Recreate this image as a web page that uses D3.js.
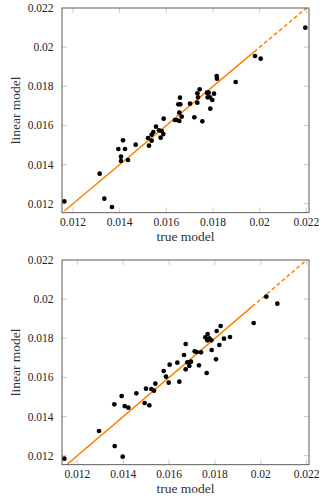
<!DOCTYPE html>
<html>
<head>
<meta charset="utf-8">
<script src="https://cdn.jsdelivr.net/npm/d3@7"></script>
<style>
  html, body { margin: 0; padding: 0; background: #fff; }
  svg { display: block; }
</style>
</head>
<body>
<svg id="chart" width="333" height="504"></svg>
<script>
// ---- Data ----
const tickValues = [0.012, 0.014, 0.016, 0.018, 0.02, 0.022];
const tickLabels = ["0.012", "0.014", "0.016", "0.018", "0.02", "0.022"];
const xLabel = "true model";
const yLabel = "linear model";

const topTrue = [0.011629,0.013143,0.013343,0.013671,0.013943,0.014057,0.014057,0.014143,0.014229,0.014357,
  0.014686,0.015214,0.015257,0.015371,0.015371,0.015443,0.015557,0.015686,0.015757,0.015800,
  0.015871,0.015886,0.016371,0.016443,0.016557,0.016586,0.016514,0.016600,0.016557,0.016657,
  0.017014,0.017200,0.017543,0.017329,0.017357,0.017429,0.017329,0.017743,0.017814,0.017771,
  0.017871,0.017971,0.017886,0.018043,0.018157,0.018171,0.018971,0.019800,0.020043,0.021957];
const topLinear = [0.012119,0.013533,0.012256,0.011830,0.014794,0.014402,0.014181,0.015237,0.014794,0.014232,
  0.015015,0.015356,0.014964,0.015526,0.015220,0.015663,0.015935,0.015748,0.015373,0.015714,
  0.015560,0.016344,0.016276,0.016276,0.016225,0.017417,0.017077,0.017077,0.016651,0.016446,
  0.017111,0.016412,0.016208,0.017639,0.017434,0.017843,0.017162,0.017673,0.017673,0.017434,
  0.017434,0.017298,0.016855,0.017622,0.018525,0.018389,0.018218,0.019547,0.019411,0.020995];

const bottomTrue = [0.011433,0.012945,0.013613,0.013628,0.013933,0.013977,0.014064,0.014224,0.014573,0.014936,
  0.014994,0.015140,0.015227,0.015343,0.015401,0.015765,0.015866,0.015983,0.016026,0.016360,
  0.016448,0.016651,0.016724,0.016724,0.016797,0.016884,0.016956,0.016884,0.017116,0.017203,
  0.017305,0.017392,0.017581,0.017683,0.017640,0.017669,0.017756,0.017843,0.017858,0.018076,
  0.018250,0.018192,0.018047,0.018395,0.018657,0.019689,0.020241,0.020721];
const bottomLinear = [0.011847,0.013261,0.014624,0.012494,0.015049,0.011949,0.014538,0.014453,0.015186,0.014692,
  0.015424,0.014572,0.015407,0.015322,0.015680,0.016327,0.016037,0.015731,0.016651,0.016753,
  0.015782,0.017145,0.017707,0.016412,0.016770,0.016770,0.016804,0.016583,0.017332,0.017298,
  0.016617,0.017281,0.018048,0.018218,0.016225,0.017894,0.017997,0.017894,0.017400,0.018371,
  0.018627,0.017656,0.016923,0.017980,0.018065,0.018780,0.020126,0.019768];

const topXDomain = [0.011529, 0.022114];
const bottomXDomain = [0.011331, 0.022102];
const yDomain = [0.01154, 0.022];
const topSolidEnd = 0.01976;
const bottomSolidEnd = 0.01962;
const lineEnd = 0.022;

// ---- Drawing ----
const svg = d3.select("#chart");
const orange = "#ff8000";
const FONT = "'Liberation Serif', 'DejaVu Serif', serif";

function panel(id, top, xDomain, xs, ys, solidEnd) {
  const left = 62, right = 309, height = 204.7;
  const g = svg.append("g");
  const x = d3.scaleLinear().domain(xDomain).range([left, right]);
  const y = d3.scaleLinear().domain(yDomain).range([top + height, top]);

  g.append("clipPath").attr("id", "clip" + id)
    .append("rect").attr("x", left).attr("y", top).attr("width", right - left).attr("height", height);

  // inner ticks on all four sides
  const tl = 5;
  const tickG = g.append("g").attr("stroke", "#bdbdbd").attr("stroke-width", 0.8);
  tickValues.forEach(v => {
    if (x(v) > left && x(v) < right) {
      tickG.append("line").attr("x1", x(v)).attr("x2", x(v)).attr("y1", top + height).attr("y2", top + height - tl);
      tickG.append("line").attr("x1", x(v)).attr("x2", x(v)).attr("y1", top).attr("y2", top + tl);
    }
    if (y(v) > top + 0.5 && y(v) < top + height) {
      tickG.append("line").attr("y1", y(v)).attr("y2", y(v)).attr("x1", left).attr("x2", left + tl);
      tickG.append("line").attr("y1", y(v)).attr("y2", y(v)).attr("x1", right).attr("x2", right - tl);
    }
  });

  // diagonal y = x line
  const xmin = d3.min(xs);
  const lg = g.append("g").attr("clip-path", `url(#clip${id})`);
  lg.append("line")
    .attr("x1", x(xmin)).attr("y1", y(xmin))
    .attr("x2", x(solidEnd)).attr("y2", y(solidEnd))
    .attr("stroke", orange).attr("stroke-width", 1.5);
  lg.append("line")
    .attr("x1", x(solidEnd)).attr("y1", y(solidEnd))
    .attr("x2", x(lineEnd)).attr("y2", y(lineEnd))
    .attr("stroke", orange).attr("stroke-width", 1.5)
    .attr("stroke-dasharray", "4,2.5");

  // points
  g.append("g").selectAll("circle").data(xs.map((v, i) => [v, ys[i]]))
    .join("circle")
    .attr("cx", d => x(d[0])).attr("cy", d => y(d[1])).attr("r", 2.35)
    .attr("fill", "#000");

  // frame
  g.append("rect").attr("x", left).attr("y", top).attr("width", right - left).attr("height", height)
    .attr("fill", "none").attr("stroke", "#4a4a4a").attr("stroke-width", 0.9);

  // tick labels
  tickValues.forEach((v, i) => {
    g.append("text").attr("x", x(v)).attr("y", top + height + 13.5)
      .attr("text-anchor", "middle").attr("font-size", 11.5)
      .attr("font-family", FONT).attr("fill", "#222").text(tickLabels[i]);
    g.append("text").attr("x", left - 8.5).attr("y", y(v)).attr("dy", "0.35em")
      .attr("text-anchor", "end").attr("font-size", 11.5)
      .attr("font-family", FONT).attr("fill", "#222").text(tickLabels[i]);
  });

  // axis labels
  g.append("text").attr("x", (left + right) / 2).attr("y", top + height + 28.5)
    .attr("text-anchor", "middle").attr("font-size", 13.5)
    .attr("font-family", FONT).attr("fill", "#333").text(xLabel);
  g.append("text")
    .attr("transform", `translate(20,${top + height / 2}) rotate(-90)`)
    .attr("text-anchor", "middle").attr("font-size", 13.5)
    .attr("font-family", FONT).attr("fill", "#333").text(yLabel);
}

panel("a", 8, topXDomain, topTrue, topLinear, topSolidEnd);
panel("b", 260, bottomXDomain, bottomTrue, bottomLinear, bottomSolidEnd);
</script>
</body>
</html>
